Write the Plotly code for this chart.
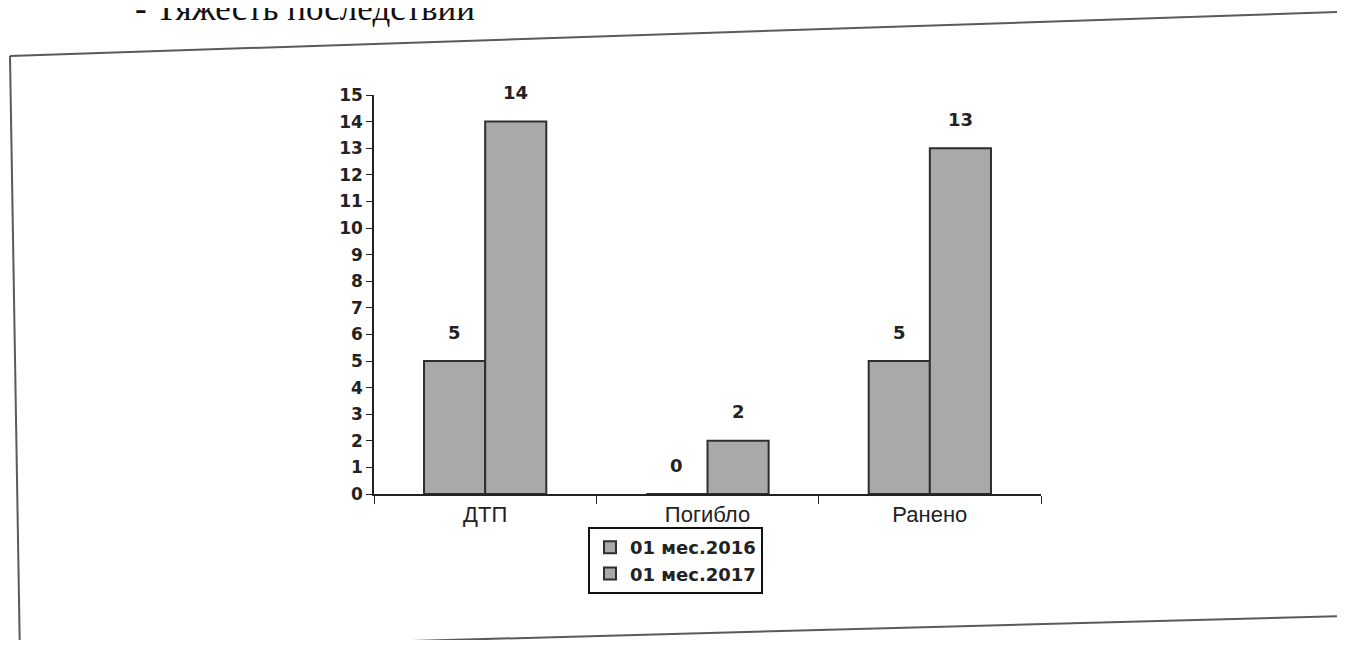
import plotly.graph_objects as go

categories = ["ДТП", "Погибло", "Ранено"]
series_names = ["01 мес.2016", "01 мес.2017"]
values_2016 = [5, 0, 5]
values_2017 = [14, 2, 13]
y_ticks = list(range(0, 16))

# page has an 8px body margin: figure coords = page coords - 8
OFF = 8
W, H = 1345 - 2 * OFF, 648 - 2 * OFF
L, T = 374 - OFF, 95 - OFF
PW, PH = 667, 399
R, B = W - L - PW, H - T - PH


def px(x_page):
    return (x_page - OFF - L) / PW


def py(y_page):
    return (T + PH - (y_page - OFF)) / PH


bar_fill = "#a9a9a9"
bar_line = "#2e2e2e"
bold_font = "DejaVu Sans"

fig = go.Figure()
for name, vals in zip(series_names, [values_2016, values_2017]):
    fig.add_trace(go.Bar(
        x=categories, y=vals, name=f"<b>{name}</b>",
        marker=dict(color=bar_fill, line=dict(color=bar_line, width=2)),
    ))

# value labels above bars
gw = PW / len(categories) * 0.55
for i, vals in enumerate([values_2016, values_2017]):
    off = (-0.5 + i) * gw / 2
    for c, v in zip(categories, vals):
        fig.add_annotation(x=c, y=v, xref="x", yref="y", text=f"<b>{v}</b>",
                           showarrow=False, xshift=off, yshift=29,
                           font=dict(family=bold_font, size=18, color="#222"))

# title fragment at top (cut by page edge, as in the scan)
fig.add_annotation(x=px(133), y=py(30), xref="paper", yref="paper",
                   xanchor="left", yanchor="bottom", showarrow=False,
                   text="- Тяжесть последствий",
                   font=dict(family="Liberation Serif", size=35, color="#111"))

# outer frame (skewed by scan)
frame_col = "#5a5a5a"
for (x0, y0, x1, y1) in [(10, 56, 1340, 12), (10, 56, 20, 660),
                         (1340, 12, 1343, 290), (150, 648, 1345, 616)]:
    fig.add_shape(type="line", xref="paper", yref="paper",
                  x0=px(x0), y0=py(y0), x1=px(x1), y1=py(y1),
                  line=dict(color=frame_col, width=2))

fig.update_layout(
    width=W, height=H,
    margin=dict(l=L, r=R, t=T, b=B),
    paper_bgcolor="white", plot_bgcolor="white",
    barmode="group", bargap=0.45, bargroupgap=0,
    showlegend=True,
    legend=dict(x=px(588), y=py(527), xanchor="left", yanchor="top",
                bordercolor="#111", borderwidth=2, bgcolor="white",
                font=dict(family=bold_font, size=18, color="#222"),
                tracegroupgap=0, itemwidth=30),
    xaxis=dict(type="category", tickvals=categories, ticktext=categories,
               showline=True, linecolor="#222", linewidth=1.5,
               ticks="outside", ticklen=8, tickcolor="#222", tickson="boundaries",
               tickfont=dict(family="Liberation Sans, Arial", size=22, color="#222"),
               showgrid=False, zeroline=False),
    yaxis=dict(range=[0, 15], tickvals=y_ticks, ticktext=[f"<b>{t}</b>" for t in y_ticks],
               showline=True, linecolor="#222", linewidth=1.5,
               ticks="outside", ticklen=6, tickcolor="#222",
               tickfont=dict(family=bold_font, size=17, color="#222"),
               showgrid=False, zeroline=False),
    font=dict(family="Liberation Sans, Arial"),
)

fig.write_html("out.html")
